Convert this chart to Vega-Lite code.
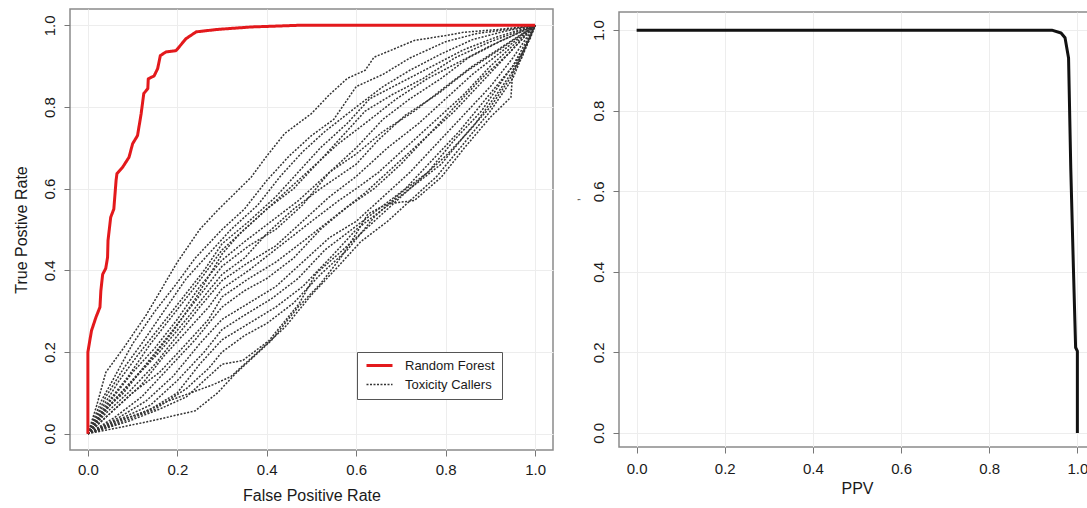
{
  "$schema": "https://vega.github.io/schema/vega-lite/v6.json",
  "background": "white",
  "padding": {"left": 12, "top": 8, "right": 0, "bottom": 0},
  "bounds": "flush",
  "center": true,
  "spacing": 66,
  "config": {
    "font": "Liberation Sans",
    "view": {"stroke": "#8a8a8a", "strokeWidth": 1.5},
    "axis": {
      "grid": true,
      "gridColor": "#ededed",
      "gridWidth": 1,
      "domain": false,
      "tickColor": "#777777",
      "tickSize": 6,
      "labelFontSize": 15,
      "labelColor": "#1a1a1a",
      "labelOverlap": false,
      "titleFontSize": 16,
      "titleFontWeight": "normal",
      "titleColor": "#1a1a1a"
    }
  },
  "datasets": {
    "roc": [
      {"curve":"c1","type":"Toxicity Callers","i":0,"fpr":0,"tpr":0},
      {"curve":"c1","type":"Toxicity Callers","i":1,"fpr":0.02,"tpr":0.07},
      {"curve":"c1","type":"Toxicity Callers","i":2,"fpr":0.04,"tpr":0.15},
      {"curve":"c1","type":"Toxicity Callers","i":3,"fpr":0.08,"tpr":0.21},
      {"curve":"c1","type":"Toxicity Callers","i":4,"fpr":0.13,"tpr":0.29},
      {"curve":"c1","type":"Toxicity Callers","i":5,"fpr":0.2,"tpr":0.42},
      {"curve":"c1","type":"Toxicity Callers","i":6,"fpr":0.25,"tpr":0.5},
      {"curve":"c1","type":"Toxicity Callers","i":7,"fpr":0.29,"tpr":0.547},
      {"curve":"c1","type":"Toxicity Callers","i":8,"fpr":0.33,"tpr":0.59},
      {"curve":"c1","type":"Toxicity Callers","i":9,"fpr":0.365,"tpr":0.628},
      {"curve":"c1","type":"Toxicity Callers","i":10,"fpr":0.4,"tpr":0.68},
      {"curve":"c1","type":"Toxicity Callers","i":11,"fpr":0.44,"tpr":0.735},
      {"curve":"c1","type":"Toxicity Callers","i":12,"fpr":0.5,"tpr":0.784},
      {"curve":"c1","type":"Toxicity Callers","i":13,"fpr":0.54,"tpr":0.83},
      {"curve":"c1","type":"Toxicity Callers","i":14,"fpr":0.58,"tpr":0.87},
      {"curve":"c1","type":"Toxicity Callers","i":15,"fpr":0.62,"tpr":0.89},
      {"curve":"c1","type":"Toxicity Callers","i":16,"fpr":0.64,"tpr":0.922},
      {"curve":"c1","type":"Toxicity Callers","i":17,"fpr":0.68,"tpr":0.94},
      {"curve":"c1","type":"Toxicity Callers","i":18,"fpr":0.73,"tpr":0.963},
      {"curve":"c1","type":"Toxicity Callers","i":19,"fpr":0.8,"tpr":0.975},
      {"curve":"c1","type":"Toxicity Callers","i":20,"fpr":0.84,"tpr":0.983},
      {"curve":"c1","type":"Toxicity Callers","i":21,"fpr":0.92,"tpr":0.99},
      {"curve":"c1","type":"Toxicity Callers","i":22,"fpr":1,"tpr":1},

      {"curve":"c2","type":"Toxicity Callers","i":0,"fpr":0,"tpr":0},
      {"curve":"c2","type":"Toxicity Callers","i":1,"fpr":0.03,"tpr":0.08},
      {"curve":"c2","type":"Toxicity Callers","i":2,"fpr":0.06,"tpr":0.14},
      {"curve":"c2","type":"Toxicity Callers","i":3,"fpr":0.1,"tpr":0.22},
      {"curve":"c2","type":"Toxicity Callers","i":4,"fpr":0.15,"tpr":0.3},
      {"curve":"c2","type":"Toxicity Callers","i":5,"fpr":0.2,"tpr":0.37},
      {"curve":"c2","type":"Toxicity Callers","i":6,"fpr":0.24,"tpr":0.43},
      {"curve":"c2","type":"Toxicity Callers","i":7,"fpr":0.3,"tpr":0.5},
      {"curve":"c2","type":"Toxicity Callers","i":8,"fpr":0.35,"tpr":0.55},
      {"curve":"c2","type":"Toxicity Callers","i":9,"fpr":0.4,"tpr":0.62},
      {"curve":"c2","type":"Toxicity Callers","i":10,"fpr":0.45,"tpr":0.68},
      {"curve":"c2","type":"Toxicity Callers","i":11,"fpr":0.5,"tpr":0.73},
      {"curve":"c2","type":"Toxicity Callers","i":12,"fpr":0.55,"tpr":0.77},
      {"curve":"c2","type":"Toxicity Callers","i":13,"fpr":0.6,"tpr":0.85},
      {"curve":"c2","type":"Toxicity Callers","i":14,"fpr":0.66,"tpr":0.88},
      {"curve":"c2","type":"Toxicity Callers","i":15,"fpr":0.72,"tpr":0.92},
      {"curve":"c2","type":"Toxicity Callers","i":16,"fpr":0.8,"tpr":0.96},
      {"curve":"c2","type":"Toxicity Callers","i":17,"fpr":0.87,"tpr":0.98},
      {"curve":"c2","type":"Toxicity Callers","i":18,"fpr":0.94,"tpr":0.99},
      {"curve":"c2","type":"Toxicity Callers","i":19,"fpr":1,"tpr":1},

      {"curve":"c3","type":"Toxicity Callers","i":0,"fpr":0,"tpr":0},
      {"curve":"c3","type":"Toxicity Callers","i":1,"fpr":0.04,"tpr":0.09},
      {"curve":"c3","type":"Toxicity Callers","i":2,"fpr":0.08,"tpr":0.16},
      {"curve":"c3","type":"Toxicity Callers","i":3,"fpr":0.12,"tpr":0.22},
      {"curve":"c3","type":"Toxicity Callers","i":4,"fpr":0.17,"tpr":0.3},
      {"curve":"c3","type":"Toxicity Callers","i":5,"fpr":0.22,"tpr":0.38},
      {"curve":"c3","type":"Toxicity Callers","i":6,"fpr":0.27,"tpr":0.44},
      {"curve":"c3","type":"Toxicity Callers","i":7,"fpr":0.32,"tpr":0.5},
      {"curve":"c3","type":"Toxicity Callers","i":8,"fpr":0.38,"tpr":0.56},
      {"curve":"c3","type":"Toxicity Callers","i":9,"fpr":0.43,"tpr":0.63},
      {"curve":"c3","type":"Toxicity Callers","i":10,"fpr":0.48,"tpr":0.69},
      {"curve":"c3","type":"Toxicity Callers","i":11,"fpr":0.53,"tpr":0.74},
      {"curve":"c3","type":"Toxicity Callers","i":12,"fpr":0.6,"tpr":0.8},
      {"curve":"c3","type":"Toxicity Callers","i":13,"fpr":0.66,"tpr":0.85},
      {"curve":"c3","type":"Toxicity Callers","i":14,"fpr":0.72,"tpr":0.89},
      {"curve":"c3","type":"Toxicity Callers","i":15,"fpr":0.79,"tpr":0.93},
      {"curve":"c3","type":"Toxicity Callers","i":16,"fpr":0.86,"tpr":0.965},
      {"curve":"c3","type":"Toxicity Callers","i":17,"fpr":0.93,"tpr":0.985},
      {"curve":"c3","type":"Toxicity Callers","i":18,"fpr":1,"tpr":1},

      {"curve":"c4","type":"Toxicity Callers","i":0,"fpr":0,"tpr":0},
      {"curve":"c4","type":"Toxicity Callers","i":1,"fpr":0.03,"tpr":0.06},
      {"curve":"c4","type":"Toxicity Callers","i":2,"fpr":0.07,"tpr":0.13},
      {"curve":"c4","type":"Toxicity Callers","i":3,"fpr":0.11,"tpr":0.19},
      {"curve":"c4","type":"Toxicity Callers","i":4,"fpr":0.16,"tpr":0.26},
      {"curve":"c4","type":"Toxicity Callers","i":5,"fpr":0.21,"tpr":0.33},
      {"curve":"c4","type":"Toxicity Callers","i":6,"fpr":0.26,"tpr":0.4},
      {"curve":"c4","type":"Toxicity Callers","i":7,"fpr":0.3,"tpr":0.465},
      {"curve":"c4","type":"Toxicity Callers","i":8,"fpr":0.36,"tpr":0.52},
      {"curve":"c4","type":"Toxicity Callers","i":9,"fpr":0.42,"tpr":0.58},
      {"curve":"c4","type":"Toxicity Callers","i":10,"fpr":0.47,"tpr":0.64},
      {"curve":"c4","type":"Toxicity Callers","i":11,"fpr":0.52,"tpr":0.7},
      {"curve":"c4","type":"Toxicity Callers","i":12,"fpr":0.58,"tpr":0.76},
      {"curve":"c4","type":"Toxicity Callers","i":13,"fpr":0.63,"tpr":0.82},
      {"curve":"c4","type":"Toxicity Callers","i":14,"fpr":0.7,"tpr":0.86},
      {"curve":"c4","type":"Toxicity Callers","i":15,"fpr":0.77,"tpr":0.9},
      {"curve":"c4","type":"Toxicity Callers","i":16,"fpr":0.84,"tpr":0.94},
      {"curve":"c4","type":"Toxicity Callers","i":17,"fpr":0.91,"tpr":0.97},
      {"curve":"c4","type":"Toxicity Callers","i":18,"fpr":1,"tpr":1},

      {"curve":"c5","type":"Toxicity Callers","i":0,"fpr":0,"tpr":0},
      {"curve":"c5","type":"Toxicity Callers","i":1,"fpr":0.04,"tpr":0.07},
      {"curve":"c5","type":"Toxicity Callers","i":2,"fpr":0.09,"tpr":0.14},
      {"curve":"c5","type":"Toxicity Callers","i":3,"fpr":0.14,"tpr":0.22},
      {"curve":"c5","type":"Toxicity Callers","i":4,"fpr":0.19,"tpr":0.29},
      {"curve":"c5","type":"Toxicity Callers","i":5,"fpr":0.24,"tpr":0.36},
      {"curve":"c5","type":"Toxicity Callers","i":6,"fpr":0.3,"tpr":0.45},
      {"curve":"c5","type":"Toxicity Callers","i":7,"fpr":0.35,"tpr":0.5},
      {"curve":"c5","type":"Toxicity Callers","i":8,"fpr":0.4,"tpr":0.55},
      {"curve":"c5","type":"Toxicity Callers","i":9,"fpr":0.46,"tpr":0.6},
      {"curve":"c5","type":"Toxicity Callers","i":10,"fpr":0.52,"tpr":0.67},
      {"curve":"c5","type":"Toxicity Callers","i":11,"fpr":0.57,"tpr":0.73},
      {"curve":"c5","type":"Toxicity Callers","i":12,"fpr":0.62,"tpr":0.79},
      {"curve":"c5","type":"Toxicity Callers","i":13,"fpr":0.68,"tpr":0.83},
      {"curve":"c5","type":"Toxicity Callers","i":14,"fpr":0.75,"tpr":0.87},
      {"curve":"c5","type":"Toxicity Callers","i":15,"fpr":0.82,"tpr":0.92},
      {"curve":"c5","type":"Toxicity Callers","i":16,"fpr":0.9,"tpr":0.96},
      {"curve":"c5","type":"Toxicity Callers","i":17,"fpr":0.95,"tpr":0.98},
      {"curve":"c5","type":"Toxicity Callers","i":18,"fpr":1,"tpr":1},

      {"curve":"c6","type":"Toxicity Callers","i":0,"fpr":0,"tpr":0},
      {"curve":"c6","type":"Toxicity Callers","i":1,"fpr":0.05,"tpr":0.08},
      {"curve":"c6","type":"Toxicity Callers","i":2,"fpr":0.1,"tpr":0.15},
      {"curve":"c6","type":"Toxicity Callers","i":3,"fpr":0.15,"tpr":0.21},
      {"curve":"c6","type":"Toxicity Callers","i":4,"fpr":0.2,"tpr":0.28},
      {"curve":"c6","type":"Toxicity Callers","i":5,"fpr":0.25,"tpr":0.36},
      {"curve":"c6","type":"Toxicity Callers","i":6,"fpr":0.3,"tpr":0.425},
      {"curve":"c6","type":"Toxicity Callers","i":7,"fpr":0.35,"tpr":0.47},
      {"curve":"c6","type":"Toxicity Callers","i":8,"fpr":0.41,"tpr":0.52},
      {"curve":"c6","type":"Toxicity Callers","i":9,"fpr":0.47,"tpr":0.57},
      {"curve":"c6","type":"Toxicity Callers","i":10,"fpr":0.53,"tpr":0.63},
      {"curve":"c6","type":"Toxicity Callers","i":11,"fpr":0.6,"tpr":0.7},
      {"curve":"c6","type":"Toxicity Callers","i":12,"fpr":0.66,"tpr":0.77},
      {"curve":"c6","type":"Toxicity Callers","i":13,"fpr":0.72,"tpr":0.82},
      {"curve":"c6","type":"Toxicity Callers","i":14,"fpr":0.79,"tpr":0.87},
      {"curve":"c6","type":"Toxicity Callers","i":15,"fpr":0.85,"tpr":0.92},
      {"curve":"c6","type":"Toxicity Callers","i":16,"fpr":0.92,"tpr":0.96},
      {"curve":"c6","type":"Toxicity Callers","i":17,"fpr":1,"tpr":1},

      {"curve":"c7","type":"Toxicity Callers","i":0,"fpr":0,"tpr":0},
      {"curve":"c7","type":"Toxicity Callers","i":1,"fpr":0.03,"tpr":0.05},
      {"curve":"c7","type":"Toxicity Callers","i":2,"fpr":0.08,"tpr":0.1},
      {"curve":"c7","type":"Toxicity Callers","i":3,"fpr":0.13,"tpr":0.17},
      {"curve":"c7","type":"Toxicity Callers","i":4,"fpr":0.18,"tpr":0.24},
      {"curve":"c7","type":"Toxicity Callers","i":5,"fpr":0.23,"tpr":0.31},
      {"curve":"c7","type":"Toxicity Callers","i":6,"fpr":0.3,"tpr":0.41},
      {"curve":"c7","type":"Toxicity Callers","i":7,"fpr":0.36,"tpr":0.46},
      {"curve":"c7","type":"Toxicity Callers","i":8,"fpr":0.42,"tpr":0.5},
      {"curve":"c7","type":"Toxicity Callers","i":9,"fpr":0.48,"tpr":0.56},
      {"curve":"c7","type":"Toxicity Callers","i":10,"fpr":0.54,"tpr":0.64},
      {"curve":"c7","type":"Toxicity Callers","i":11,"fpr":0.6,"tpr":0.685},
      {"curve":"c7","type":"Toxicity Callers","i":12,"fpr":0.66,"tpr":0.74},
      {"curve":"c7","type":"Toxicity Callers","i":13,"fpr":0.73,"tpr":0.79},
      {"curve":"c7","type":"Toxicity Callers","i":14,"fpr":0.8,"tpr":0.85},
      {"curve":"c7","type":"Toxicity Callers","i":15,"fpr":0.86,"tpr":0.9},
      {"curve":"c7","type":"Toxicity Callers","i":16,"fpr":0.93,"tpr":0.95},
      {"curve":"c7","type":"Toxicity Callers","i":17,"fpr":1,"tpr":1},

      {"curve":"c8","type":"Toxicity Callers","i":0,"fpr":0,"tpr":0},
      {"curve":"c8","type":"Toxicity Callers","i":1,"fpr":0.05,"tpr":0.07},
      {"curve":"c8","type":"Toxicity Callers","i":2,"fpr":0.1,"tpr":0.13},
      {"curve":"c8","type":"Toxicity Callers","i":3,"fpr":0.16,"tpr":0.2},
      {"curve":"c8","type":"Toxicity Callers","i":4,"fpr":0.22,"tpr":0.28},
      {"curve":"c8","type":"Toxicity Callers","i":5,"fpr":0.27,"tpr":0.35},
      {"curve":"c8","type":"Toxicity Callers","i":6,"fpr":0.3,"tpr":0.39},
      {"curve":"c8","type":"Toxicity Callers","i":7,"fpr":0.35,"tpr":0.43},
      {"curve":"c8","type":"Toxicity Callers","i":8,"fpr":0.4,"tpr":0.49},
      {"curve":"c8","type":"Toxicity Callers","i":9,"fpr":0.46,"tpr":0.55},
      {"curve":"c8","type":"Toxicity Callers","i":10,"fpr":0.52,"tpr":0.6},
      {"curve":"c8","type":"Toxicity Callers","i":11,"fpr":0.6,"tpr":0.66},
      {"curve":"c8","type":"Toxicity Callers","i":12,"fpr":0.65,"tpr":0.72},
      {"curve":"c8","type":"Toxicity Callers","i":13,"fpr":0.71,"tpr":0.78},
      {"curve":"c8","type":"Toxicity Callers","i":14,"fpr":0.78,"tpr":0.83},
      {"curve":"c8","type":"Toxicity Callers","i":15,"fpr":0.85,"tpr":0.89},
      {"curve":"c8","type":"Toxicity Callers","i":16,"fpr":0.92,"tpr":0.94},
      {"curve":"c8","type":"Toxicity Callers","i":17,"fpr":1,"tpr":1},

      {"curve":"c9","type":"Toxicity Callers","i":0,"fpr":0,"tpr":0},
      {"curve":"c9","type":"Toxicity Callers","i":1,"fpr":0.04,"tpr":0.05},
      {"curve":"c9","type":"Toxicity Callers","i":2,"fpr":0.09,"tpr":0.1},
      {"curve":"c9","type":"Toxicity Callers","i":3,"fpr":0.15,"tpr":0.17},
      {"curve":"c9","type":"Toxicity Callers","i":4,"fpr":0.2,"tpr":0.24},
      {"curve":"c9","type":"Toxicity Callers","i":5,"fpr":0.25,"tpr":0.31},
      {"curve":"c9","type":"Toxicity Callers","i":6,"fpr":0.3,"tpr":0.375},
      {"curve":"c9","type":"Toxicity Callers","i":7,"fpr":0.36,"tpr":0.42},
      {"curve":"c9","type":"Toxicity Callers","i":8,"fpr":0.42,"tpr":0.46},
      {"curve":"c9","type":"Toxicity Callers","i":9,"fpr":0.48,"tpr":0.52},
      {"curve":"c9","type":"Toxicity Callers","i":10,"fpr":0.54,"tpr":0.58},
      {"curve":"c9","type":"Toxicity Callers","i":11,"fpr":0.6,"tpr":0.63},
      {"curve":"c9","type":"Toxicity Callers","i":12,"fpr":0.67,"tpr":0.7},
      {"curve":"c9","type":"Toxicity Callers","i":13,"fpr":0.74,"tpr":0.76},
      {"curve":"c9","type":"Toxicity Callers","i":14,"fpr":0.8,"tpr":0.82},
      {"curve":"c9","type":"Toxicity Callers","i":15,"fpr":0.86,"tpr":0.88},
      {"curve":"c9","type":"Toxicity Callers","i":16,"fpr":0.93,"tpr":0.94},
      {"curve":"c9","type":"Toxicity Callers","i":17,"fpr":1,"tpr":1},

      {"curve":"c10","type":"Toxicity Callers","i":0,"fpr":0,"tpr":0},
      {"curve":"c10","type":"Toxicity Callers","i":1,"fpr":0.06,"tpr":0.06},
      {"curve":"c10","type":"Toxicity Callers","i":2,"fpr":0.12,"tpr":0.12},
      {"curve":"c10","type":"Toxicity Callers","i":3,"fpr":0.17,"tpr":0.19},
      {"curve":"c10","type":"Toxicity Callers","i":4,"fpr":0.22,"tpr":0.25},
      {"curve":"c10","type":"Toxicity Callers","i":5,"fpr":0.27,"tpr":0.31},
      {"curve":"c10","type":"Toxicity Callers","i":6,"fpr":0.3,"tpr":0.355},
      {"curve":"c10","type":"Toxicity Callers","i":7,"fpr":0.36,"tpr":0.4},
      {"curve":"c10","type":"Toxicity Callers","i":8,"fpr":0.43,"tpr":0.46},
      {"curve":"c10","type":"Toxicity Callers","i":9,"fpr":0.5,"tpr":0.52},
      {"curve":"c10","type":"Toxicity Callers","i":10,"fpr":0.56,"tpr":0.57},
      {"curve":"c10","type":"Toxicity Callers","i":11,"fpr":0.6,"tpr":0.6},
      {"curve":"c10","type":"Toxicity Callers","i":12,"fpr":0.65,"tpr":0.64},
      {"curve":"c10","type":"Toxicity Callers","i":13,"fpr":0.7,"tpr":0.69},
      {"curve":"c10","type":"Toxicity Callers","i":14,"fpr":0.77,"tpr":0.76},
      {"curve":"c10","type":"Toxicity Callers","i":15,"fpr":0.84,"tpr":0.83},
      {"curve":"c10","type":"Toxicity Callers","i":16,"fpr":0.9,"tpr":0.9},
      {"curve":"c10","type":"Toxicity Callers","i":17,"fpr":0.95,"tpr":0.95},
      {"curve":"c10","type":"Toxicity Callers","i":18,"fpr":1,"tpr":1},

      {"curve":"c11","type":"Toxicity Callers","i":0,"fpr":0,"tpr":0},
      {"curve":"c11","type":"Toxicity Callers","i":1,"fpr":0.05,"tpr":0.05},
      {"curve":"c11","type":"Toxicity Callers","i":2,"fpr":0.1,"tpr":0.1},
      {"curve":"c11","type":"Toxicity Callers","i":3,"fpr":0.16,"tpr":0.15},
      {"curve":"c11","type":"Toxicity Callers","i":4,"fpr":0.22,"tpr":0.22},
      {"curve":"c11","type":"Toxicity Callers","i":5,"fpr":0.27,"tpr":0.28},
      {"curve":"c11","type":"Toxicity Callers","i":6,"fpr":0.3,"tpr":0.335},
      {"curve":"c11","type":"Toxicity Callers","i":7,"fpr":0.36,"tpr":0.38},
      {"curve":"c11","type":"Toxicity Callers","i":8,"fpr":0.42,"tpr":0.42},
      {"curve":"c11","type":"Toxicity Callers","i":9,"fpr":0.48,"tpr":0.47},
      {"curve":"c11","type":"Toxicity Callers","i":10,"fpr":0.55,"tpr":0.53},
      {"curve":"c11","type":"Toxicity Callers","i":11,"fpr":0.62,"tpr":0.59},
      {"curve":"c11","type":"Toxicity Callers","i":12,"fpr":0.68,"tpr":0.65},
      {"curve":"c11","type":"Toxicity Callers","i":13,"fpr":0.75,"tpr":0.72},
      {"curve":"c11","type":"Toxicity Callers","i":14,"fpr":0.82,"tpr":0.79},
      {"curve":"c11","type":"Toxicity Callers","i":15,"fpr":0.88,"tpr":0.86},
      {"curve":"c11","type":"Toxicity Callers","i":16,"fpr":0.94,"tpr":0.93},
      {"curve":"c11","type":"Toxicity Callers","i":17,"fpr":1,"tpr":1},

      {"curve":"c12","type":"Toxicity Callers","i":0,"fpr":0,"tpr":0},
      {"curve":"c12","type":"Toxicity Callers","i":1,"fpr":0.06,"tpr":0.04},
      {"curve":"c12","type":"Toxicity Callers","i":2,"fpr":0.12,"tpr":0.09},
      {"curve":"c12","type":"Toxicity Callers","i":3,"fpr":0.18,"tpr":0.16},
      {"curve":"c12","type":"Toxicity Callers","i":4,"fpr":0.24,"tpr":0.23},
      {"curve":"c12","type":"Toxicity Callers","i":5,"fpr":0.3,"tpr":0.31},
      {"curve":"c12","type":"Toxicity Callers","i":6,"fpr":0.35,"tpr":0.35},
      {"curve":"c12","type":"Toxicity Callers","i":7,"fpr":0.4,"tpr":0.38},
      {"curve":"c12","type":"Toxicity Callers","i":8,"fpr":0.46,"tpr":0.43},
      {"curve":"c12","type":"Toxicity Callers","i":9,"fpr":0.52,"tpr":0.5},
      {"curve":"c12","type":"Toxicity Callers","i":10,"fpr":0.58,"tpr":0.555},
      {"curve":"c12","type":"Toxicity Callers","i":11,"fpr":0.64,"tpr":0.6},
      {"curve":"c12","type":"Toxicity Callers","i":12,"fpr":0.7,"tpr":0.66},
      {"curve":"c12","type":"Toxicity Callers","i":13,"fpr":0.76,"tpr":0.73},
      {"curve":"c12","type":"Toxicity Callers","i":14,"fpr":0.82,"tpr":0.8},
      {"curve":"c12","type":"Toxicity Callers","i":15,"fpr":0.88,"tpr":0.87},
      {"curve":"c12","type":"Toxicity Callers","i":16,"fpr":0.94,"tpr":0.93},
      {"curve":"c12","type":"Toxicity Callers","i":17,"fpr":1,"tpr":1},

      {"curve":"c13","type":"Toxicity Callers","i":0,"fpr":0,"tpr":0},
      {"curve":"c13","type":"Toxicity Callers","i":1,"fpr":0.07,"tpr":0.04},
      {"curve":"c13","type":"Toxicity Callers","i":2,"fpr":0.13,"tpr":0.08},
      {"curve":"c13","type":"Toxicity Callers","i":3,"fpr":0.19,"tpr":0.14},
      {"curve":"c13","type":"Toxicity Callers","i":4,"fpr":0.25,"tpr":0.22},
      {"curve":"c13","type":"Toxicity Callers","i":5,"fpr":0.3,"tpr":0.28},
      {"curve":"c13","type":"Toxicity Callers","i":6,"fpr":0.36,"tpr":0.32},
      {"curve":"c13","type":"Toxicity Callers","i":7,"fpr":0.42,"tpr":0.36},
      {"curve":"c13","type":"Toxicity Callers","i":8,"fpr":0.48,"tpr":0.42},
      {"curve":"c13","type":"Toxicity Callers","i":9,"fpr":0.54,"tpr":0.48},
      {"curve":"c13","type":"Toxicity Callers","i":10,"fpr":0.6,"tpr":0.52},
      {"curve":"c13","type":"Toxicity Callers","i":11,"fpr":0.66,"tpr":0.58},
      {"curve":"c13","type":"Toxicity Callers","i":12,"fpr":0.72,"tpr":0.64},
      {"curve":"c13","type":"Toxicity Callers","i":13,"fpr":0.78,"tpr":0.71},
      {"curve":"c13","type":"Toxicity Callers","i":14,"fpr":0.84,"tpr":0.78},
      {"curve":"c13","type":"Toxicity Callers","i":15,"fpr":0.9,"tpr":0.85},
      {"curve":"c13","type":"Toxicity Callers","i":16,"fpr":0.95,"tpr":0.92},
      {"curve":"c13","type":"Toxicity Callers","i":17,"fpr":1,"tpr":1},

      {"curve":"c14","type":"Toxicity Callers","i":0,"fpr":0,"tpr":0},
      {"curve":"c14","type":"Toxicity Callers","i":1,"fpr":0.08,"tpr":0.04},
      {"curve":"c14","type":"Toxicity Callers","i":2,"fpr":0.14,"tpr":0.07},
      {"curve":"c14","type":"Toxicity Callers","i":3,"fpr":0.2,"tpr":0.13},
      {"curve":"c14","type":"Toxicity Callers","i":4,"fpr":0.26,"tpr":0.2},
      {"curve":"c14","type":"Toxicity Callers","i":5,"fpr":0.3,"tpr":0.255},
      {"curve":"c14","type":"Toxicity Callers","i":6,"fpr":0.35,"tpr":0.29},
      {"curve":"c14","type":"Toxicity Callers","i":7,"fpr":0.41,"tpr":0.33},
      {"curve":"c14","type":"Toxicity Callers","i":8,"fpr":0.47,"tpr":0.38},
      {"curve":"c14","type":"Toxicity Callers","i":9,"fpr":0.53,"tpr":0.45},
      {"curve":"c14","type":"Toxicity Callers","i":10,"fpr":0.59,"tpr":0.5},
      {"curve":"c14","type":"Toxicity Callers","i":11,"fpr":0.65,"tpr":0.55},
      {"curve":"c14","type":"Toxicity Callers","i":12,"fpr":0.71,"tpr":0.6},
      {"curve":"c14","type":"Toxicity Callers","i":13,"fpr":0.77,"tpr":0.67},
      {"curve":"c14","type":"Toxicity Callers","i":14,"fpr":0.83,"tpr":0.74},
      {"curve":"c14","type":"Toxicity Callers","i":15,"fpr":0.89,"tpr":0.82},
      {"curve":"c14","type":"Toxicity Callers","i":16,"fpr":0.95,"tpr":0.9},
      {"curve":"c14","type":"Toxicity Callers","i":17,"fpr":1,"tpr":1},

      {"curve":"c15","type":"Toxicity Callers","i":0,"fpr":0,"tpr":0},
      {"curve":"c15","type":"Toxicity Callers","i":1,"fpr":0.07,"tpr":0.03},
      {"curve":"c15","type":"Toxicity Callers","i":2,"fpr":0.14,"tpr":0.06},
      {"curve":"c15","type":"Toxicity Callers","i":3,"fpr":0.2,"tpr":0.1},
      {"curve":"c15","type":"Toxicity Callers","i":4,"fpr":0.25,"tpr":0.17},
      {"curve":"c15","type":"Toxicity Callers","i":5,"fpr":0.3,"tpr":0.23},
      {"curve":"c15","type":"Toxicity Callers","i":6,"fpr":0.36,"tpr":0.27},
      {"curve":"c15","type":"Toxicity Callers","i":7,"fpr":0.42,"tpr":0.31},
      {"curve":"c15","type":"Toxicity Callers","i":8,"fpr":0.48,"tpr":0.36},
      {"curve":"c15","type":"Toxicity Callers","i":9,"fpr":0.55,"tpr":0.44},
      {"curve":"c15","type":"Toxicity Callers","i":10,"fpr":0.6,"tpr":0.5},
      {"curve":"c15","type":"Toxicity Callers","i":11,"fpr":0.66,"tpr":0.55},
      {"curve":"c15","type":"Toxicity Callers","i":12,"fpr":0.72,"tpr":0.6},
      {"curve":"c15","type":"Toxicity Callers","i":13,"fpr":0.79,"tpr":0.66},
      {"curve":"c15","type":"Toxicity Callers","i":14,"fpr":0.85,"tpr":0.74},
      {"curve":"c15","type":"Toxicity Callers","i":15,"fpr":0.9,"tpr":0.8},
      {"curve":"c15","type":"Toxicity Callers","i":16,"fpr":0.95,"tpr":0.88},
      {"curve":"c15","type":"Toxicity Callers","i":17,"fpr":1,"tpr":1},

      {"curve":"c16","type":"Toxicity Callers","i":0,"fpr":0,"tpr":0},
      {"curve":"c16","type":"Toxicity Callers","i":1,"fpr":0.08,"tpr":0.03},
      {"curve":"c16","type":"Toxicity Callers","i":2,"fpr":0.15,"tpr":0.06},
      {"curve":"c16","type":"Toxicity Callers","i":3,"fpr":0.22,"tpr":0.11},
      {"curve":"c16","type":"Toxicity Callers","i":4,"fpr":0.27,"tpr":0.16},
      {"curve":"c16","type":"Toxicity Callers","i":5,"fpr":0.3,"tpr":0.2},
      {"curve":"c16","type":"Toxicity Callers","i":6,"fpr":0.35,"tpr":0.24},
      {"curve":"c16","type":"Toxicity Callers","i":7,"fpr":0.4,"tpr":0.27},
      {"curve":"c16","type":"Toxicity Callers","i":8,"fpr":0.46,"tpr":0.32},
      {"curve":"c16","type":"Toxicity Callers","i":9,"fpr":0.52,"tpr":0.39},
      {"curve":"c16","type":"Toxicity Callers","i":10,"fpr":0.58,"tpr":0.45},
      {"curve":"c16","type":"Toxicity Callers","i":11,"fpr":0.64,"tpr":0.53},
      {"curve":"c16","type":"Toxicity Callers","i":12,"fpr":0.7,"tpr":0.59},
      {"curve":"c16","type":"Toxicity Callers","i":13,"fpr":0.76,"tpr":0.64},
      {"curve":"c16","type":"Toxicity Callers","i":14,"fpr":0.82,"tpr":0.72},
      {"curve":"c16","type":"Toxicity Callers","i":15,"fpr":0.88,"tpr":0.79},
      {"curve":"c16","type":"Toxicity Callers","i":16,"fpr":0.93,"tpr":0.87},
      {"curve":"c16","type":"Toxicity Callers","i":17,"fpr":0.97,"tpr":0.93},
      {"curve":"c16","type":"Toxicity Callers","i":18,"fpr":1,"tpr":1},

      {"curve":"c17","type":"Toxicity Callers","i":0,"fpr":0,"tpr":0},
      {"curve":"c17","type":"Toxicity Callers","i":1,"fpr":0.09,"tpr":0.03},
      {"curve":"c17","type":"Toxicity Callers","i":2,"fpr":0.16,"tpr":0.06},
      {"curve":"c17","type":"Toxicity Callers","i":3,"fpr":0.22,"tpr":0.09},
      {"curve":"c17","type":"Toxicity Callers","i":4,"fpr":0.26,"tpr":0.13},
      {"curve":"c17","type":"Toxicity Callers","i":5,"fpr":0.3,"tpr":0.17},
      {"curve":"c17","type":"Toxicity Callers","i":6,"fpr":0.346,"tpr":0.179},
      {"curve":"c17","type":"Toxicity Callers","i":7,"fpr":0.405,"tpr":0.228},
      {"curve":"c17","type":"Toxicity Callers","i":8,"fpr":0.472,"tpr":0.318},
      {"curve":"c17","type":"Toxicity Callers","i":9,"fpr":0.51,"tpr":0.392},
      {"curve":"c17","type":"Toxicity Callers","i":10,"fpr":0.56,"tpr":0.44},
      {"curve":"c17","type":"Toxicity Callers","i":11,"fpr":0.62,"tpr":0.5},
      {"curve":"c17","type":"Toxicity Callers","i":12,"fpr":0.68,"tpr":0.56},
      {"curve":"c17","type":"Toxicity Callers","i":13,"fpr":0.74,"tpr":0.62},
      {"curve":"c17","type":"Toxicity Callers","i":14,"fpr":0.8,"tpr":0.68},
      {"curve":"c17","type":"Toxicity Callers","i":15,"fpr":0.86,"tpr":0.75},
      {"curve":"c17","type":"Toxicity Callers","i":16,"fpr":0.92,"tpr":0.84},
      {"curve":"c17","type":"Toxicity Callers","i":17,"fpr":0.97,"tpr":0.92},
      {"curve":"c17","type":"Toxicity Callers","i":18,"fpr":1,"tpr":1},

      {"curve":"c18","type":"Toxicity Callers","i":0,"fpr":0,"tpr":0},
      {"curve":"c18","type":"Toxicity Callers","i":1,"fpr":0.07,"tpr":0.015},
      {"curve":"c18","type":"Toxicity Callers","i":2,"fpr":0.145,"tpr":0.032},
      {"curve":"c18","type":"Toxicity Callers","i":3,"fpr":0.24,"tpr":0.056},
      {"curve":"c18","type":"Toxicity Callers","i":4,"fpr":0.29,"tpr":0.1},
      {"curve":"c18","type":"Toxicity Callers","i":5,"fpr":0.33,"tpr":0.147},
      {"curve":"c18","type":"Toxicity Callers","i":6,"fpr":0.41,"tpr":0.228},
      {"curve":"c18","type":"Toxicity Callers","i":7,"fpr":0.47,"tpr":0.31},
      {"curve":"c18","type":"Toxicity Callers","i":8,"fpr":0.52,"tpr":0.367},
      {"curve":"c18","type":"Toxicity Callers","i":9,"fpr":0.566,"tpr":0.432},
      {"curve":"c18","type":"Toxicity Callers","i":10,"fpr":0.6,"tpr":0.49},
      {"curve":"c18","type":"Toxicity Callers","i":11,"fpr":0.626,"tpr":0.538},
      {"curve":"c18","type":"Toxicity Callers","i":12,"fpr":0.67,"tpr":0.563},
      {"curve":"c18","type":"Toxicity Callers","i":13,"fpr":0.73,"tpr":0.571},
      {"curve":"c18","type":"Toxicity Callers","i":14,"fpr":0.79,"tpr":0.628},
      {"curve":"c18","type":"Toxicity Callers","i":15,"fpr":0.842,"tpr":0.7},
      {"curve":"c18","type":"Toxicity Callers","i":16,"fpr":0.9,"tpr":0.775},
      {"curve":"c18","type":"Toxicity Callers","i":17,"fpr":0.946,"tpr":0.824},
      {"curve":"c18","type":"Toxicity Callers","i":18,"fpr":0.95,"tpr":0.89},
      {"curve":"c18","type":"Toxicity Callers","i":19,"fpr":0.99,"tpr":0.97},
      {"curve":"c18","type":"Toxicity Callers","i":20,"fpr":1,"tpr":1},

      {"curve":"c19","type":"Toxicity Callers","i":0,"fpr":0,"tpr":0},
      {"curve":"c19","type":"Toxicity Callers","i":1,"fpr":0.06,"tpr":0.03},
      {"curve":"c19","type":"Toxicity Callers","i":2,"fpr":0.12,"tpr":0.05},
      {"curve":"c19","type":"Toxicity Callers","i":3,"fpr":0.18,"tpr":0.08},
      {"curve":"c19","type":"Toxicity Callers","i":4,"fpr":0.23,"tpr":0.1},
      {"curve":"c19","type":"Toxicity Callers","i":5,"fpr":0.28,"tpr":0.12},
      {"curve":"c19","type":"Toxicity Callers","i":6,"fpr":0.32,"tpr":0.14},
      {"curve":"c19","type":"Toxicity Callers","i":7,"fpr":0.38,"tpr":0.2},
      {"curve":"c19","type":"Toxicity Callers","i":8,"fpr":0.44,"tpr":0.26},
      {"curve":"c19","type":"Toxicity Callers","i":9,"fpr":0.5,"tpr":0.34},
      {"curve":"c19","type":"Toxicity Callers","i":10,"fpr":0.56,"tpr":0.41},
      {"curve":"c19","type":"Toxicity Callers","i":11,"fpr":0.61,"tpr":0.47},
      {"curve":"c19","type":"Toxicity Callers","i":12,"fpr":0.67,"tpr":0.52},
      {"curve":"c19","type":"Toxicity Callers","i":13,"fpr":0.73,"tpr":0.58},
      {"curve":"c19","type":"Toxicity Callers","i":14,"fpr":0.78,"tpr":0.63},
      {"curve":"c19","type":"Toxicity Callers","i":15,"fpr":0.84,"tpr":0.71},
      {"curve":"c19","type":"Toxicity Callers","i":16,"fpr":0.9,"tpr":0.79},
      {"curve":"c19","type":"Toxicity Callers","i":17,"fpr":0.95,"tpr":0.87},
      {"curve":"c19","type":"Toxicity Callers","i":18,"fpr":1,"tpr":1},

      {"curve":"c20","type":"Toxicity Callers","i":0,"fpr":0,"tpr":0},
      {"curve":"c20","type":"Toxicity Callers","i":1,"fpr":0.04,"tpr":0.06},
      {"curve":"c20","type":"Toxicity Callers","i":2,"fpr":0.09,"tpr":0.12},
      {"curve":"c20","type":"Toxicity Callers","i":3,"fpr":0.14,"tpr":0.18},
      {"curve":"c20","type":"Toxicity Callers","i":4,"fpr":0.19,"tpr":0.25},
      {"curve":"c20","type":"Toxicity Callers","i":5,"fpr":0.24,"tpr":0.33},
      {"curve":"c20","type":"Toxicity Callers","i":6,"fpr":0.3,"tpr":0.44},
      {"curve":"c20","type":"Toxicity Callers","i":7,"fpr":0.34,"tpr":0.49},
      {"curve":"c20","type":"Toxicity Callers","i":8,"fpr":0.38,"tpr":0.53},
      {"curve":"c20","type":"Toxicity Callers","i":9,"fpr":0.44,"tpr":0.59},
      {"curve":"c20","type":"Toxicity Callers","i":10,"fpr":0.5,"tpr":0.65},
      {"curve":"c20","type":"Toxicity Callers","i":11,"fpr":0.56,"tpr":0.71},
      {"curve":"c20","type":"Toxicity Callers","i":12,"fpr":0.62,"tpr":0.76},
      {"curve":"c20","type":"Toxicity Callers","i":13,"fpr":0.69,"tpr":0.82},
      {"curve":"c20","type":"Toxicity Callers","i":14,"fpr":0.76,"tpr":0.87},
      {"curve":"c20","type":"Toxicity Callers","i":15,"fpr":0.83,"tpr":0.91},
      {"curve":"c20","type":"Toxicity Callers","i":16,"fpr":0.9,"tpr":0.95},
      {"curve":"c20","type":"Toxicity Callers","i":17,"fpr":0.96,"tpr":0.98},
      {"curve":"c20","type":"Toxicity Callers","i":18,"fpr":1,"tpr":1},

      {"curve":"rf","type":"Random Forest","i":0,"fpr":0,"tpr":0},
      {"curve":"rf","type":"Random Forest","i":1,"fpr":0,"tpr":0.2},
      {"curve":"rf","type":"Random Forest","i":2,"fpr":0.008,"tpr":0.252},
      {"curve":"rf","type":"Random Forest","i":3,"fpr":0.018,"tpr":0.285},
      {"curve":"rf","type":"Random Forest","i":4,"fpr":0.027,"tpr":0.31},
      {"curve":"rf","type":"Random Forest","i":5,"fpr":0.029,"tpr":0.35},
      {"curve":"rf","type":"Random Forest","i":6,"fpr":0.033,"tpr":0.39},
      {"curve":"rf","type":"Random Forest","i":7,"fpr":0.04,"tpr":0.405},
      {"curve":"rf","type":"Random Forest","i":8,"fpr":0.044,"tpr":0.432},
      {"curve":"rf","type":"Random Forest","i":9,"fpr":0.045,"tpr":0.473},
      {"curve":"rf","type":"Random Forest","i":10,"fpr":0.051,"tpr":0.53},
      {"curve":"rf","type":"Random Forest","i":11,"fpr":0.058,"tpr":0.55},
      {"curve":"rf","type":"Random Forest","i":12,"fpr":0.063,"tpr":0.62},
      {"curve":"rf","type":"Random Forest","i":13,"fpr":0.065,"tpr":0.637},
      {"curve":"rf","type":"Random Forest","i":14,"fpr":0.078,"tpr":0.653},
      {"curve":"rf","type":"Random Forest","i":15,"fpr":0.092,"tpr":0.677},
      {"curve":"rf","type":"Random Forest","i":16,"fpr":0.1,"tpr":0.71},
      {"curve":"rf","type":"Random Forest","i":17,"fpr":0.111,"tpr":0.73},
      {"curve":"rf","type":"Random Forest","i":18,"fpr":0.119,"tpr":0.783},
      {"curve":"rf","type":"Random Forest","i":19,"fpr":0.125,"tpr":0.833},
      {"curve":"rf","type":"Random Forest","i":20,"fpr":0.134,"tpr":0.845},
      {"curve":"rf","type":"Random Forest","i":21,"fpr":0.135,"tpr":0.869},
      {"curve":"rf","type":"Random Forest","i":22,"fpr":0.148,"tpr":0.876},
      {"curve":"rf","type":"Random Forest","i":23,"fpr":0.156,"tpr":0.894},
      {"curve":"rf","type":"Random Forest","i":24,"fpr":0.162,"tpr":0.926},
      {"curve":"rf","type":"Random Forest","i":25,"fpr":0.175,"tpr":0.935},
      {"curve":"rf","type":"Random Forest","i":26,"fpr":0.197,"tpr":0.938},
      {"curve":"rf","type":"Random Forest","i":27,"fpr":0.204,"tpr":0.947},
      {"curve":"rf","type":"Random Forest","i":28,"fpr":0.219,"tpr":0.967},
      {"curve":"rf","type":"Random Forest","i":29,"fpr":0.242,"tpr":0.984},
      {"curve":"rf","type":"Random Forest","i":30,"fpr":0.29,"tpr":0.99},
      {"curve":"rf","type":"Random Forest","i":31,"fpr":0.365,"tpr":0.996},
      {"curve":"rf","type":"Random Forest","i":32,"fpr":0.47,"tpr":1},
      {"curve":"rf","type":"Random Forest","i":33,"fpr":1,"tpr":1}
    ],
    "ppv": [
      {"i":0,"ppv":0,"sens":1},
      {"i":1,"ppv":0.3,"sens":1},
      {"i":2,"ppv":0.6,"sens":1},
      {"i":3,"ppv":0.942,"sens":1},
      {"i":4,"ppv":0.963,"sens":0.993},
      {"i":5,"ppv":0.972,"sens":0.981},
      {"i":6,"ppv":0.98,"sens":0.931},
      {"i":7,"ppv":0.985,"sens":0.658},
      {"i":8,"ppv":0.991,"sens":0.41},
      {"i":9,"ppv":0.996,"sens":0.212},
      {"i":10,"ppv":1,"sens":0.203},
      {"i":11,"ppv":1,"sens":0}
    ]
  },
  "hconcat": [
    {
      "width": 483,
      "height": 441,
      "data": {"name": "roc"},
      "mark": {"type": "line", "strokeJoin": "round", "clip": true},
      "encoding": {
        "x": {
          "field": "fpr",
          "type": "quantitative",
          "scale": {"domain": [-0.04, 1.04], "nice": false, "zero": false},
          "axis": {
            "title": "False Positive Rate",
            "values": [0, 0.2, 0.4, 0.6, 0.8, 1],
            "format": ".1f",
            "labelPadding": 6,
            "titlePadding": 10
          }
        },
        "y": {
          "field": "tpr",
          "type": "quantitative",
          "scale": {"domain": [-0.04, 1.04], "nice": false, "zero": false},
          "axis": {
            "title": "True Postive Rate",
            "values": [0, 0.2, 0.4, 0.6, 0.8, 1],
            "format": ".1f",
            "labelAngle": -90,
            "labelAlign": "center",
            "labelBaseline": "bottom",
            "labelPadding": 7,
            "titlePadding": 13
          }
        },
        "color": {
          "field": "type",
          "type": "nominal",
          "scale": {"domain": ["Random Forest", "Toxicity Callers"], "range": ["#e3191c", "#333333"]},
          "legend": {
            "title": null,
            "orient": "none",
            "legendX": 287,
            "legendY": 343,
            "symbolType": "M-2.6,0H2.6",
            "symbolSize": 100,
            "symbolOffset": 9,
            "labelFontSize": 13,
            "labelColor": "#1a1a1a",
            "labelOffset": 19,
            "rowPadding": 5,
            "padding": 7,
            "strokeColor": "#555555",
            "fillColor": "white"
          }
        },
        "strokeDash": {
          "field": "type",
          "type": "nominal",
          "scale": {"domain": ["Random Forest", "Toxicity Callers"], "range": [[1, 0], [2, 1.5]]},
          "legend": {
            "title": null,
            "orient": "none",
            "legendX": 287,
            "legendY": 343,
            "symbolType": "M-2.6,0H2.6",
            "symbolSize": 100,
            "symbolOffset": 9,
            "labelFontSize": 13,
            "labelColor": "#1a1a1a",
            "labelOffset": 19,
            "rowPadding": 5,
            "padding": 7,
            "strokeColor": "#555555",
            "fillColor": "white"
          }
        },
        "strokeWidth": {
          "field": "type",
          "type": "nominal",
          "scale": {"domain": ["Random Forest", "Toxicity Callers"], "range": [3, 1.5]},
          "legend": null
        },
        "detail": {"field": "curve", "type": "nominal"},
        "order": {"field": "i", "type": "quantitative"}
      }
    },
    {
      "width": 476,
      "height": 435,
      "data": {"name": "ppv"},
      "mark": {"type": "line", "color": "#111111", "strokeWidth": 3, "strokeJoin": "round"},
      "encoding": {
        "x": {
          "field": "ppv",
          "type": "quantitative",
          "scale": {"domain": [-0.04, 1.04], "nice": false, "zero": false},
          "axis": {
            "title": "PPV",
            "values": [0, 0.2, 0.4, 0.6, 0.8, 1],
            "format": ".1f",
            "labelPadding": 8,
            "titlePadding": 4
          }
        },
        "y": {
          "field": "sens",
          "type": "quantitative",
          "scale": {"domain": [-0.035, 1.045], "nice": false, "zero": false},
          "axis": {
            "title": ",",
            "titleX": -38,
            "titleY": 187,
            "titleFontSize": 12,
            "titleColor": "#666666",
            "values": [0, 0.2, 0.4, 0.6, 0.8, 1],
            "format": ".1f",
            "labelAngle": -90,
            "labelAlign": "center",
            "labelBaseline": "bottom",
            "labelPadding": 7
          }
        },
        "order": {"field": "i", "type": "quantitative"}
      }
    }
  ]
}
